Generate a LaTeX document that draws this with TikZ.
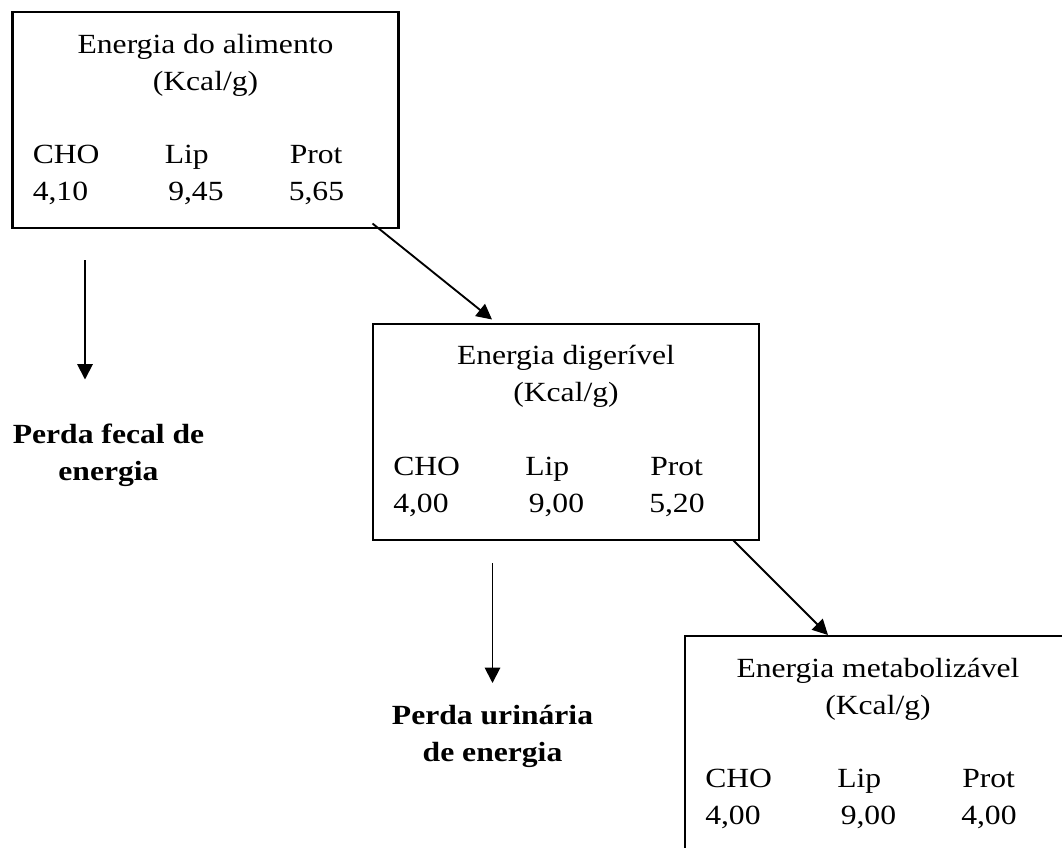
\documentclass[tikz,border=0pt]{standalone}
\usepackage{fontspec}
\setmainfont{Liberation Serif}[FakeStretch=1.14]
\usepackage{tikz}
\usetikzlibrary{arrows.meta}

\tikzset{
  databox/.style={draw, line width=1.6pt, rectangle, minimum width=289.5pt, minimum height=162pt, inner sep=0pt},
  boxtext/.style={anchor=base west, inner sep=0pt, font=\fontsize{20.8}{25}\selectfont},
  boxtitle/.style={anchor=base, inner sep=0pt, font=\fontsize{20.8}{25}\selectfont},
  losstext/.style={anchor=base, inner sep=0pt, font=\fontsize{20.8}{25}\selectfont\bfseries},
  flow/.style={line width=1.4pt, -{Triangle[length=11.5pt,width=11.5pt]}}
}

\begin{document}
\begin{tikzpicture}[x=0.75pt,y=0.75pt,yscale=-1,xscale=1]
\useasboundingbox (0,0) rectangle (1062,847);
\clip (0,0) rectangle (1062,847);

%Box: energia do alimento
\node [databox] (alim) at (205.5,120) {};
\node [boxtitle] (alimtitle) at (205.5,53) {Energia do alimento};
\node [boxtitle] (alimunit) at (205.5,90) {(Kcal/g)};
\node [boxtext] (alimcho) at (32.5,163) {CHO};
\node [boxtext] (alimlip) at (164.5,163) {Lip};
\node [boxtext] (alimprot) at (289.5,163) {Prot};
\node [boxtext] (alimcv) at (32.5,200) {4,10};
\node [boxtext] (alimlv) at (168,200) {9,45};
\node [boxtext] (alimpv) at (288.5,200) {5,65};

%Box: energia digerivel
\node [databox] (dig) at (566,432) {};
\node [boxtitle] (digtitle) at (566,364) {Energia digerível};
\node [boxtitle] (digunit) at (566,401) {(Kcal/g)};
\node [boxtext] (digcho) at (393,475) {CHO};
\node [boxtext] (diglip) at (525,475) {Lip};
\node [boxtext] (digprot) at (650,475) {Prot};
\node [boxtext] (digcv) at (393,512) {4,00};
\node [boxtext] (diglv) at (528.5,512) {9,00};
\node [boxtext] (digpv) at (649,512) {5,20};

%Box: energia metabolizavel
\node [databox] (meta) at (878,744) {};
\node [boxtitle] (metatitle) at (878,677) {Energia metabolizável};
\node [boxtitle] (metaunit) at (878,714) {(Kcal/g)};
\node [boxtext] (metacho) at (705,787) {CHO};
\node [boxtext] (metalip) at (837,787) {Lip};
\node [boxtext] (metaprot) at (962,787) {Prot};
\node [boxtext] (metacv) at (705,824) {4,00};
\node [boxtext] (metalv) at (840.5,824) {9,00};
\node [boxtext] (metapv) at (961,824) {4,00};

%Losses
\node [losstext] (fecal) at (108.5,443) {Perda fecal de};
\node [losstext] (fecalb) at (108.5,480) {energia};
\node [losstext] (urin) at (492.5,724) {Perda urinária};
\node [losstext] (urinb) at (492.5,761) {de energia};

%Arrow ends
\coordinate (alimout) at (372.5,223.5);
\coordinate (digin) at (492,319.5);
\coordinate (digout) at (733,540);
\coordinate (metain) at (828,635);
\coordinate (fecaltop) at (85,260);
\coordinate (fecalend) at (85,379.5);
\coordinate (urintop) at (492.5,563);
\coordinate (urinend) at (492.5,683);

%Arrows
\draw [flow] (alimout) -- (digin);
\draw [flow] (digout) -- (metain);
\draw [flow] (fecaltop) -- (fecalend);
\draw [flow] (urintop) -- (urinend);

\end{tikzpicture}
\end{document}
